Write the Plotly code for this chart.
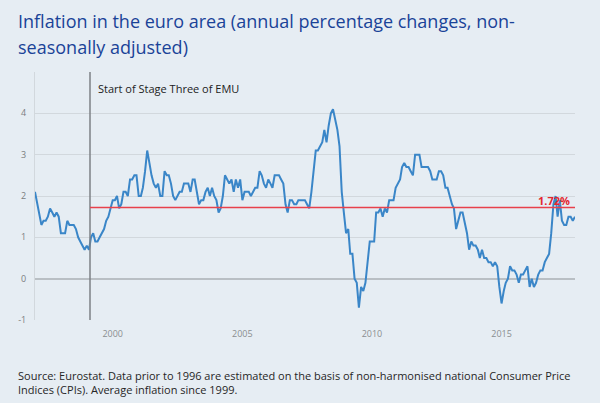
import pandas as pd
import plotly.graph_objects as go

# Monthly HICP annual rates (%), Jan 1997 - Nov 2017
y1997 = [2.1, 1.8, 1.5, 1.3, 1.4, 1.4, 1.5, 1.7, 1.6, 1.5, 1.6, 1.5]
y1998 = [1.1, 1.1, 1.1, 1.4, 1.3, 1.3, 1.3, 1.2, 1.0, 0.9, 0.8, 0.7]
y1999 = [0.8, 0.7, 1.0, 1.1, 0.9, 0.9, 1.0, 1.1, 1.2, 1.4, 1.5, 1.7]
y2000 = [1.9, 1.9, 2.0, 1.7, 1.8, 2.1, 2.1, 2.0, 2.4, 2.4, 2.5, 2.5]
y2001 = [2.0, 2.0, 2.2, 2.6, 3.1, 2.8, 2.5, 2.3, 2.2, 2.3, 2.0, 2.0]
y2002 = [2.6, 2.5, 2.5, 2.3, 2.0, 1.9, 2.0, 2.1, 2.1, 2.3, 2.3, 2.3]
y2003 = [2.1, 2.4, 2.4, 2.1, 1.8, 1.9, 1.9, 2.1, 2.2, 2.0, 2.2, 2.0]
y2004 = [1.9, 1.6, 1.7, 2.0, 2.5, 2.4, 2.3, 2.4, 2.1, 2.4, 2.2, 2.4]
y2005 = [1.9, 2.1, 2.1, 2.1, 2.0, 2.1, 2.2, 2.2, 2.6, 2.5, 2.3, 2.2]
y2006 = [2.4, 2.3, 2.2, 2.5, 2.5, 2.5, 2.4, 2.3, 1.8, 1.6, 1.9, 1.9]
y2007 = [1.8, 1.8, 1.9, 1.9, 1.9, 1.9, 1.8, 1.7, 2.1, 2.6, 3.1, 3.1]
y2008 = [3.2, 3.3, 3.6, 3.3, 3.7, 4.0, 4.1, 3.8, 3.6, 3.2, 2.1, 1.6]
y2009 = [1.1, 1.2, 0.6, 0.6, 0.0, -0.1, -0.7, -0.2, -0.3, -0.1, 0.5, 0.9]
y2010 = [0.9, 0.9, 1.6, 1.6, 1.7, 1.5, 1.7, 1.6, 1.9, 1.9, 1.9, 2.2]
y2011 = [2.3, 2.4, 2.7, 2.8, 2.7, 2.7, 2.6, 2.5, 3.0, 3.0, 3.0, 2.7]
y2012 = [2.7, 2.7, 2.7, 2.6, 2.4, 2.4, 2.4, 2.6, 2.6, 2.5, 2.2, 2.2]
y2013 = [2.0, 1.8, 1.7, 1.2, 1.4, 1.6, 1.6, 1.3, 1.1, 0.7, 0.9, 0.8]
y2014 = [0.8, 0.7, 0.5, 0.7, 0.5, 0.5, 0.4, 0.4, 0.3, 0.4, 0.3, -0.2]
y2015 = [-0.6, -0.3, -0.1, 0.0, 0.3, 0.2, 0.2, 0.1, -0.1, 0.1, 0.1, 0.2]
y2016 = [0.3, -0.2, 0.0, -0.2, -0.1, 0.1, 0.2, 0.2, 0.4, 0.5, 0.6, 1.1]
y2017 = [1.8, 2.0, 1.5, 1.9, 1.4, 1.3, 1.3, 1.5, 1.5, 1.4, 1.5]

values = (y1997 + y1998 + y1999 + y2000 + y2001 + y2002 + y2003 + y2004 + y2005
          + y2006 + y2007 + y2008 + y2009 + y2010 + y2011 + y2012 + y2013 + y2014
          + y2015 + y2016 + y2017)
dates = pd.date_range("1997-01-01", periods=len(values), freq="MS")

average_since_1999 = 1.72
average_label = "1.72%"
emu_start = "1999-02-15"
emu_label = "Start of Stage Three of EMU"
x_tick_vals = ["2000-01-01", "2005-01-01", "2010-01-01", "2015-01-01"]
x_tick_text = ["2000", "2005", "2010", "2015"]
y_tick_vals = [-1, 0, 1, 2, 3, 4, 5]
y_tick_text = ["-1", "0", "1", "2", "3", "4", ""]

title_lines = ["Inflation in the euro area (annual percentage changes, non-",
               "seasonally adjusted)"]
source_text = ("Source: Eurostat. Data prior to 1996 are estimated on the basis of non-harmonised national Consumer Price<br>"
               "Indices (CPIs). Average inflation since 1999.")

BG = "#e6edf3"
FONT = "Open Sans"

fig = go.Figure()
fig.add_trace(go.Scatter(x=dates, y=values, mode="lines",
                         line=dict(color="#3a86c8", width=2), hoverinfo="skip"))

fig.add_shape(type="line", xref="x", yref="paper", x0=emu_start, x1=emu_start, y0=0, y1=1,
              line=dict(color="#7c8186", width=1.5))
fig.add_shape(type="line", xref="x", yref="y", x0=emu_start, x1=dates[-1],
              y0=average_since_1999, y1=average_since_1999,
              line=dict(color="#e8414b", width=1.5))

fig.add_annotation(x=emu_start, y=0.934, xref="x", yref="paper", text=emu_label,
                   showarrow=False, xanchor="left", yanchor="middle", xshift=6,
                   font=dict(family=FONT, size=11, color="#222222"))
fig.add_annotation(x=dates[-1], y=average_since_1999, xref="x", yref="y",
                   text="<b>" + average_label + "</b>",
                   showarrow=False, xanchor="right", yanchor="bottom", xshift=-3, yshift=-2,
                   font=dict(family=FONT, size=11, color="#e3262f"))

for line, ypos in zip(title_lines, [1.2044, 1.1008]):
    fig.add_annotation(x=-0.0346, y=ypos, xref="paper", yref="paper", text=line,
                       showarrow=False, xanchor="left", yanchor="middle", align="left",
                       font=dict(family=FONT, size=18, color="#1a4398"))
fig.add_annotation(x=-0.0346, y=-0.25, xref="paper", yref="paper", text=source_text,
                   showarrow=False, xanchor="left", yanchor="middle", align="left",
                   font=dict(family=FONT, size=11, color="#262626"))

fig.update_layout(
    width=600, height=403,
    margin=dict(l=35, r=25, t=72, b=83),
    paper_bgcolor=BG, plot_bgcolor=BG,
    showlegend=False,
    xaxis=dict(range=[dates[0], dates[-1]], tickvals=x_tick_vals, ticktext=x_tick_text,
               showgrid=False, zeroline=False, showline=False,
               ticks="outside", ticklen=5, tickcolor=BG,
               tickfont=dict(family=FONT, size=9, color="#8a8d90")),
    yaxis=dict(range=[-1, 5], tickvals=y_tick_vals, ticktext=y_tick_text,
               showgrid=True, gridcolor="#d2d8dd", gridwidth=1,
               zeroline=True, zerolinecolor="#b9bfc4", zerolinewidth=2,
               showline=True, linecolor="#d2d8dd", linewidth=1,
               ticks="outside", ticklen=6, tickcolor=BG,
               tickfont=dict(family=FONT, size=9, color="#7a7d80")),
)

fig.write_html("out.html", config={"displayModeBar": False},
               post_script="document.body.style.margin='0';")
